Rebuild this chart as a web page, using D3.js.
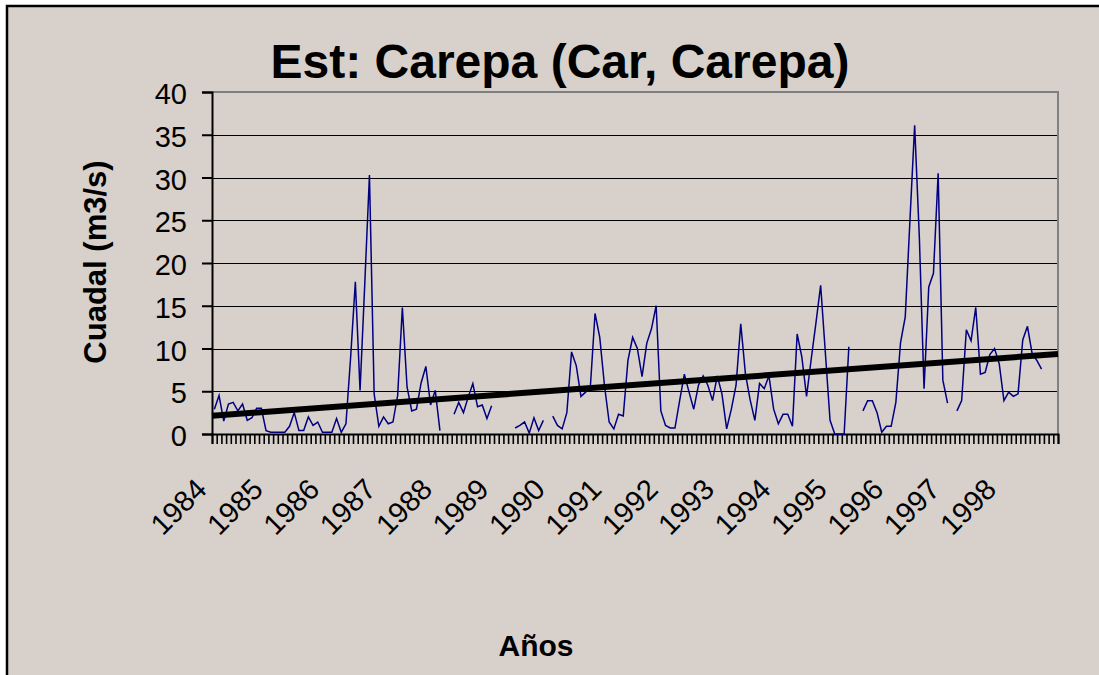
<!DOCTYPE html>
<html>
<head>
<meta charset="utf-8">
<script src="https://cdn.jsdelivr.net/npm/d3@7"></script>
<style>
  body { margin: 0; background: #fff; }
  svg { display: block; font-family: "Liberation Sans", Arial, sans-serif; }
</style>
</head>
<body>
<div class="chart"></div>
<script>
// monthly flows, Jan 1984 - Dec 1998 (null = no record)
var years = ['1984','1985','1986','1987','1988','1989','1990','1991','1992','1993','1994','1995','1996','1997','1998'];
var months = ['01','02','03','04','05','06','07','08','09','10','11','12'];
var caudal = [
  2.9, 4.5, 1.5, 3.5, 3.7, 2.7, 3.5, 1.6, 1.9, 3.0,
  3.0, 0.4, 0.2, 0.2, 0.2, 0.2, 0.9, 2.5, 0.4, 0.4,
  2.0, 1.0, 1.4, 0.2, 0.2, 0.2, 1.8, 0.2, 1.2, 9.0,
  17.8, 5.1, 17.5, 30.3, 4.7, 0.9, 2.0, 1.2, 1.4, 4.5,
  14.8, 5.5, 2.7, 2.9, 6.0, 7.9, 3.4, 5.1, 0.4, null,
  null, 2.3, 3.7, 2.5, 4.3, 5.9, 3.2, 3.4, 1.8, 3.3,
  null, null, null, null, 0.7, 1.0, 1.4, 0.1, 1.9, 0.4,
  1.6, null, 2.1, 1.0, 0.6, 2.5, 9.6, 8.0, 4.4, 4.9,
  5.5, 14.1, 11.3, 5.7, 1.4, 0.6, 2.3, 2.1, 8.6, 11.3,
  10.0, 6.7, 10.6, 12.3, 15.0, 2.7, 1.0, 0.7, 0.7, 3.9,
  7.0, 4.9, 2.9, 5.7, 6.8, 5.7, 3.9, 6.8, 4.7, 0.6,
  2.9, 5.7, 12.9, 7.0, 4.0, 1.6, 5.9, 5.3, 6.8, 2.9,
  1.2, 2.3, 2.3, 0.9, 11.7, 9.0, 4.4, 8.8, 13.0, 17.4,
  9.5, 1.6, 0, 0, 0, 10.2, null, null, 2.7, 3.9,
  3.9, 2.5, 0.2, 0.9, 0.9, 3.7, 10.7, 13.7, 25.0, 36.1,
  23.0, 5.3, 17.2, 18.8, 30.5, 6.3, 3.6, null, 2.7, 3.9,
  12.2, 10.9, 14.8, 7.0, 7.2, 9.3, 10.0, 8.2, 3.9, 4.9,
  4.4, 4.7, 11.0, 12.6, 9.4, 8.6, 7.6, null, null, null
];
var yTicks = [0, 5, 10, 15, 20, 25, 30, 35, 40];
// linear trend (Excel trendline), value at the left and right edge of the plot
var trendEnds = [2.14, 9.36];

var categories = [];
years.forEach(function (y) {
  months.forEach(function (m) { categories.push(y + '-' + m); });
});

var W = 1099, H = 675;
var plotL = 212, plotR = 1058, plotT = 92, plotB = 434;

var svg = d3.select('.chart').append('svg')
  .attr('width', W)
  .attr('height', H);

// chart area
svg.append('rect')
  .attr('x', 7).attr('y', 6)
  .attr('width', W + 20).attr('height', H + 20)
  .attr('fill', '#d8d0cb')
  .attr('stroke', '#000')
  .attr('stroke-width', 2.5);

var x = d3.scaleBand()
  .domain(categories)
  .range([plotL, plotR])
  .padding(0);

var xEdge = d3.scaleLinear()
  .domain([0, categories.length])
  .range([plotL, plotR]);

var y = d3.scaleLinear()
  .domain([0, 40])
  .range([plotB, plotT]);

function cx(i) { return x(categories[i]) + x.bandwidth() / 2; }

// gridlines
svg.append('g')
  .selectAll('line')
  .data(yTicks.filter(function (t) { return t > 0 && t < 40; }))
  .enter().append('line')
  .attr('x1', plotL).attr('x2', plotR)
  .attr('y1', function (d) { return Math.round(y(d)) + 0.5; })
  .attr('y2', function (d) { return Math.round(y(d)) + 0.5; })
  .attr('stroke', '#000')
  .attr('stroke-width', 1);

// plot border top/right
svg.append('path')
  .attr('d', 'M' + plotL + ',' + y(40) + 'H' + plotR + 'V' + plotB)
  .attr('fill', 'none')
  .attr('stroke', '#808080')
  .attr('stroke-width', 2);

// y axis
var yAxis = svg.append('g')
  .attr('transform', 'translate(' + plotL + ',0)')
  .call(d3.axisLeft(y).tickValues(yTicks).tickSize(10).tickPadding(15));
yAxis.select('.domain').attr('stroke', '#000').attr('stroke-width', 2);
yAxis.selectAll('.tick line').attr('stroke', '#000').attr('stroke-width', 2);
yAxis.selectAll('.tick text')
  .attr('font-size', 29)
  .attr('font-family', '"Liberation Sans", Arial, sans-serif')
  .attr('fill', '#000')
  .attr('dy', '0.4em');

// x axis, one mark per month boundary
var xAxis = svg.append('g')
  .attr('transform', 'translate(0,' + plotB + ')')
  .call(d3.axisBottom(xEdge).tickValues(d3.range(categories.length + 1)).tickSize(10).tickFormat(''));
xAxis.select('.domain').attr('stroke', '#000').attr('stroke-width', 2);
xAxis.selectAll('.tick line').attr('stroke', '#000').attr('stroke-width', 1.6);

// year labels every 12 months
svg.append('g')
  .selectAll('text')
  .data(years)
  .enter().append('text')
  .attr('transform', function (d, k) {
    return 'translate(' + (cx(k * 12) - 6) + ',491) rotate(-45)';
  })
  .attr('text-anchor', 'end')
  .attr('font-size', 29)
  .attr('fill', '#000')
  .text(function (d) { return d; });

// flow series
var line = d3.line()
  .defined(function (d) { return d != null; })
  .x(function (d, i) { return cx(i); })
  .y(function (d) { return y(d); });

svg.append('path')
  .datum(caudal)
  .attr('d', line)
  .attr('fill', 'none')
  .attr('stroke', '#000080')
  .attr('stroke-width', 1.5)
  .attr('stroke-linejoin', 'miter');

// trendline
svg.append('line')
  .attr('x1', plotL).attr('x2', plotR)
  .attr('y1', y(trendEnds[0]))
  .attr('y2', y(trendEnds[1]))
  .attr('stroke', '#000')
  .attr('stroke-width', 6);

// titles
svg.append('text')
  .attr('x', 560).attr('y', 78)
  .attr('text-anchor', 'middle')
  .attr('font-size', 48)
  .attr('font-weight', 'bold')
  .text('Est: Carepa (Car, Carepa)');

svg.append('text')
  .attr('transform', 'translate(106,262) rotate(-90)')
  .attr('text-anchor', 'middle')
  .attr('font-size', 31)
  .attr('font-weight', 'bold')
  .text('Cuadal (m3/s)');

svg.append('text')
  .attr('x', 536).attr('y', 656)
  .attr('text-anchor', 'middle')
  .attr('font-size', 30)
  .attr('font-weight', 'bold')
  .text('Años');
</script>
</body>
</html>
